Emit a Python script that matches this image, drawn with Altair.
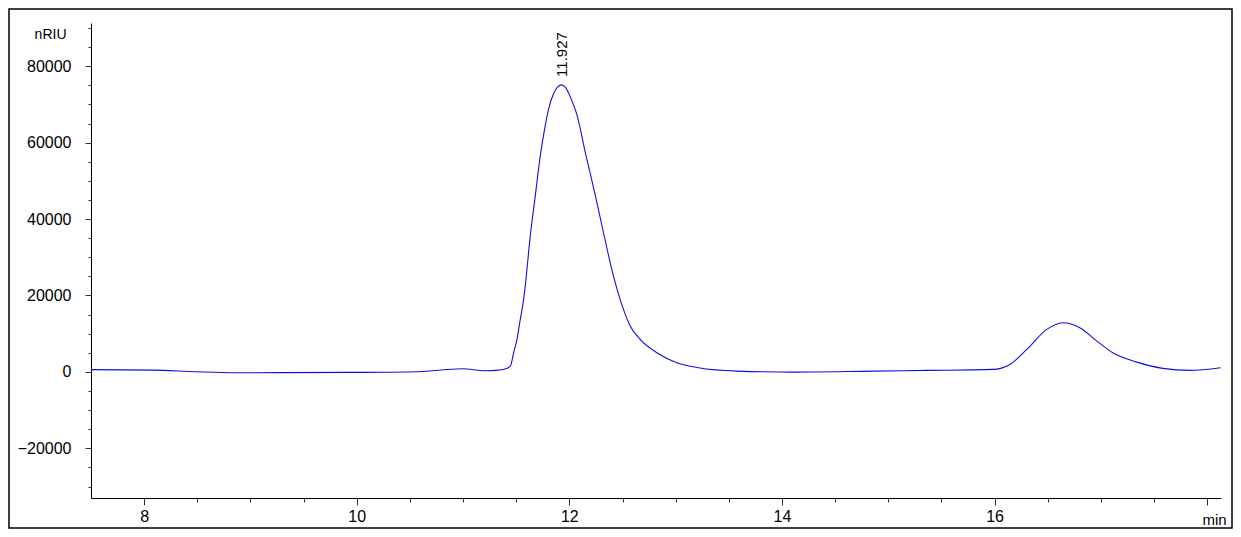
import altair as alt
import pandas as pd

# Chromatogram trace (retention time in min, signal in nRIU)
time_min = [7.50, 8.08, 8.48, 8.86, 9.96, 10.58, 10.99, 11.21, 11.335, 11.382, 11.445,
            11.476, 11.507, 11.538, 11.570, 11.585, 11.632, 11.679, 11.726, 11.770,
            11.805, 11.850, 11.890, 11.927, 11.970, 12.009, 12.071, 12.150, 12.244,
            12.321, 12.415, 12.509, 12.572, 12.666, 12.823, 13.011, 13.214, 13.578,
            14.104, 14.856, 15.363, 15.983, 16.144, 16.303, 16.491, 16.642, 16.802,
            16.962, 17.112, 17.338, 17.582, 17.836, 18.127]
signal_nriu = [600, 470, 50, -210, -130, 50, 840, 310, 470, 650, 1520,
               5020, 8500, 13730, 18970, 22450, 35530, 46000, 56450, 64000,
               68800, 72700, 74600, 75100, 74200, 71940, 67300, 57400, 46200,
               36410, 25060, 16350, 11980, 8500, 5020, 2410, 1100, 210,
               -50, 210, 390, 650, 1960, 5890, 11120, 12870, 11560,
               8060, 5020, 2560, 920, 390, 1100]

peak_time = [11.927]
peak_height = [75100]
peak_label = ["11.927"]

x_major = [8, 10, 12, 14, 16, 18]
x_minor = [8 + 0.5 * i for i in range(21)]
y_major = [-20000, 0, 20000, 40000, 60000, 80000]
y_minor = [-30000 + 5000 * i for i in range(25)]

df = pd.DataFrame({"t": time_min, "s": signal_nriu})
peaks = pd.DataFrame({"t": peak_time, "s": peak_height, "label": peak_label})

xscale = alt.Scale(domain=[7.5, 18.13], nice=False, zero=False)
yscale = alt.Scale(domain=[-33000, 91300], nice=False, zero=False)

FONT = "Liberation Sans"

minor = alt.Chart(df).mark_line(strokeOpacity=0).encode(
    x=alt.X("t:Q", scale=xscale,
            axis=alt.Axis(orient="bottom", values=x_minor, labels=False, domain=False,
                          grid=False, tickSize=4, tickColor="#333", title=None)),
    y=alt.Y("s:Q", scale=yscale,
            axis=alt.Axis(orient="left", values=y_minor, labels=False, domain=False,
                          grid=False, tickSize=3, tickColor="#333", title=None)),
)

trace = alt.Chart(df).mark_line(color="#1010e0", strokeWidth=1.1,
                                interpolate="monotone").encode(
    x=alt.X("t:Q", scale=xscale,
            axis=alt.Axis(orient="bottom", values=x_major, grid=False, tickSize=7,
                          tickColor="#333", domainColor="#000", labelFontSize=16,
                          labelFont=FONT, labelColor="#000", labelPadding=3,
                          format="d",
                          labelExpr="datum.value == 18 ? '' : datum.label",
                          title="min", titleFont=FONT, titleFontSize=15,
                          titleFontWeight="normal", titleX=1123, titleY=21,
                          titleBaseline="middle", titleAlign="center")),
    y=alt.Y("s:Q", scale=yscale,
            axis=alt.Axis(orient="left", values=y_major, grid=False, tickSize=6,
                          tickColor="#333", domainColor="#000", labelFontSize=16,
                          labelFont=FONT, labelColor="#000", labelPadding=14,
                          format="d",
                          title="nRIU", titleFont=FONT, titleFontSize=14,
                          titleFontWeight="normal", titleAngle=0, titleAlign="right",
                          titleBaseline="middle", titleX=-25, titleY=11)),
)

label = alt.Chart(peaks).mark_text(angle=270, align="left", baseline="middle",
                                   dx=8, fontSize=15, font=FONT, color="#000").encode(
    x=alt.X("t:Q", scale=xscale, axis=None),
    y=alt.Y("s:Q", scale=yscale, axis=None),
    text="label:N",
)

border = alt.Chart(pd.DataFrame({"k": [0]})).mark_rect(
    filled=False, stroke="#000", strokeWidth=1.5).encode(
    x=alt.value(-82), x2=alt.value(1141), y=alt.value(-14), y2=alt.value(505))

chart = alt.layer(minor, trace, label, border).resolve_axis(
    x="independent", y="independent"
).properties(
    width=1130, height=475,
    background="white",
    autosize=alt.AutoSizeParams(type="none"),
    padding={"left": 83, "top": 15, "right": 12, "bottom": 31},
).configure_view(strokeWidth=0, strokeOpacity=0)

chart.save("out.html", embed_options={"renderer": "svg", "actions": False})
